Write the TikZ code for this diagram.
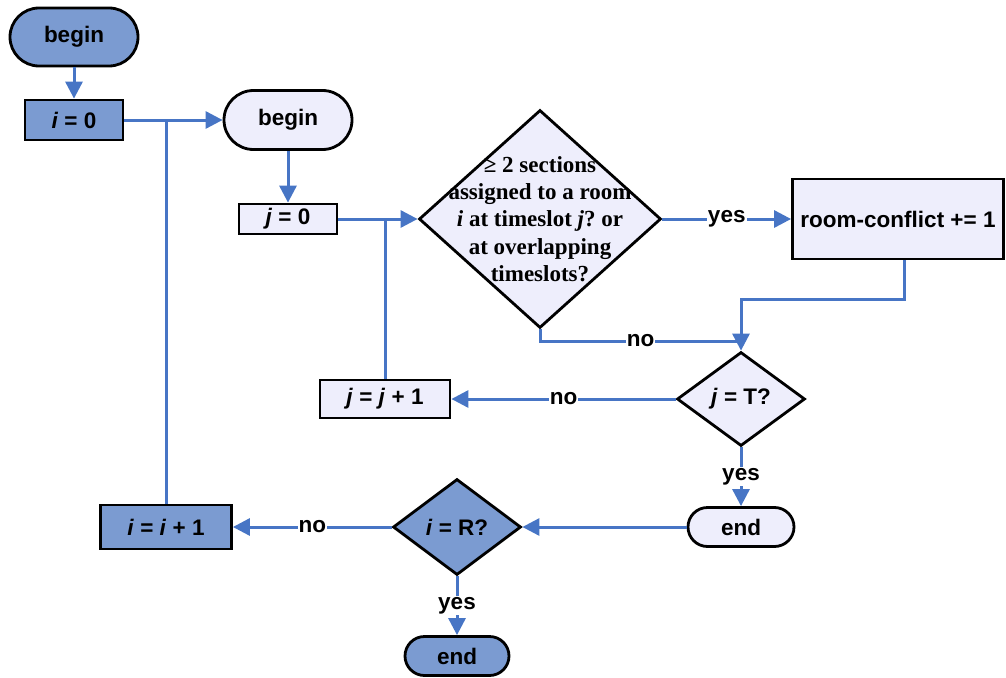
\documentclass[tikz,border=0pt]{standalone}
\usepackage{fontspec}
\setmainfont{Liberation Sans}
\newfontfamily\serifbold{Liberation Serif}
\usetikzlibrary{shapes.geometric,shapes.misc,arrows.meta}
\frenchspacing

\definecolor{darkfill}{HTML}{7B9BD1}
\definecolor{lightfill}{HTML}{EEEEFC}
\definecolor{flowline}{HTML}{4775C5}

\tikzset{
  box/.style={draw=black, line width=2.8pt, inner sep=0pt,
    font=\fontsize{22.5}{26}\selectfont\bfseries},
  pill/.style={box, rounded rectangle},
  rectbox/.style={box, rectangle},
  decision/.style={box, diamond},
  darkbox/.style={fill=darkfill},
  lightbox/.style={fill=lightfill},
  flow/.style={draw=flowline, line width=3pt},
  flowarrow/.style={flow, -{Triangle[length=17pt,width=17pt]}},
  lbl/.style={fill=white, inner sep=1pt, text=black,
    font=\fontsize{22.5}{26}\selectfont\bfseries},
}

\begin{document}
\begin{tikzpicture}[x=1pt, y=-1pt]
  \useasboundingbox (0,0) rectangle (1006,677);

  % outer loop over rooms
  \node[pill, darkbox, minimum width=128pt, minimum height=58pt] (b1) at (74,37) {begin};
  \node[rectbox, darkbox, minimum width=98pt, minimum height=40pt] (i0) at (74,120) {\textit{i} = 0};

  % inner loop over timeslots
  \node[pill, lightbox, minimum width=128pt, minimum height=59pt] (b2) at (288,120) {begin};
  \node[rectbox, lightbox, minimum width=98pt, minimum height=30pt] (j0) at (288,219) {\textit{j} = 0};

  \node[decision, lightbox, minimum width=242pt, minimum height=218pt] (q1) at (540,219) {};
  \node[align=center, inner sep=0pt, font=\serifbold\fontsize{23}{27.2}\selectfont\bfseries]
    (q1text) at (540,219)
    {≥ 2 sections\\assigned to a room\\\textit{i} at timeslot \textit{j}? or\\at overlapping\\timeslots?};

  \node[rectbox, lightbox, minimum width=211pt, minimum height=80pt] (rc) at (898,219) {room-conflict += 1};

  \node[decision, lightbox, minimum width=128pt, minimum height=94pt] (jT) at (741,399) {\textit{j} = T?};
  \node[rectbox, lightbox, minimum width=130pt, minimum height=38pt] (jj) at (385,399) {\textit{j} = \textit{j} + 1};
  \node[pill, lightbox, minimum width=106pt, minimum height=39pt] (e1) at (741,527) {end};

  \node[decision, darkbox, minimum width=128pt, minimum height=96pt] (iR) at (457,527) {\textit{i} = R?};
  \node[rectbox, darkbox, minimum width=131pt, minimum height=44pt] (ii) at (166,527) {\textit{i} = \textit{i} + 1};
  \node[pill, darkbox, minimum width=104pt, minimum height=39pt] (e2) at (457,656) {end};

  \coordinate (merge) at (741,341);

  % connectors
  \draw[flowarrow] (b1.south) -- (i0.north);
  \draw[flowarrow] (i0.east) -- (b2.west);
  \draw[flow] (ii.north) -- (ii.north |- b2.west);

  \draw[flowarrow] (b2.south) -- (j0.north);
  \draw[flowarrow] (j0.east) -- (q1.west);
  \draw[flow] (jj.north) -- (jj.north |- q1.west);

  \draw[flowarrow] (q1.east) -- node[lbl] {yes} (rc.west);
  \draw[flow] (q1.south) -- (q1.south |- merge) -- node[lbl] {no} (merge);
  \draw[flowarrow] ([xshift=6pt]rc.south) -- ++(0,39) -| (jT.north);

  \draw[flowarrow] (jT.west) -- node[lbl] {no} (jj.east);
  \draw[flowarrow] (jT.south) -- node[lbl] {yes} (e1.north);
  \draw[flowarrow] (e1.west) -- (iR.east);
  \draw[flowarrow] (iR.west) -- node[lbl] {no} (ii.east);
  \draw[flowarrow] (iR.south) -- node[lbl] {yes} (e2.north);
\end{tikzpicture}
\end{document}
